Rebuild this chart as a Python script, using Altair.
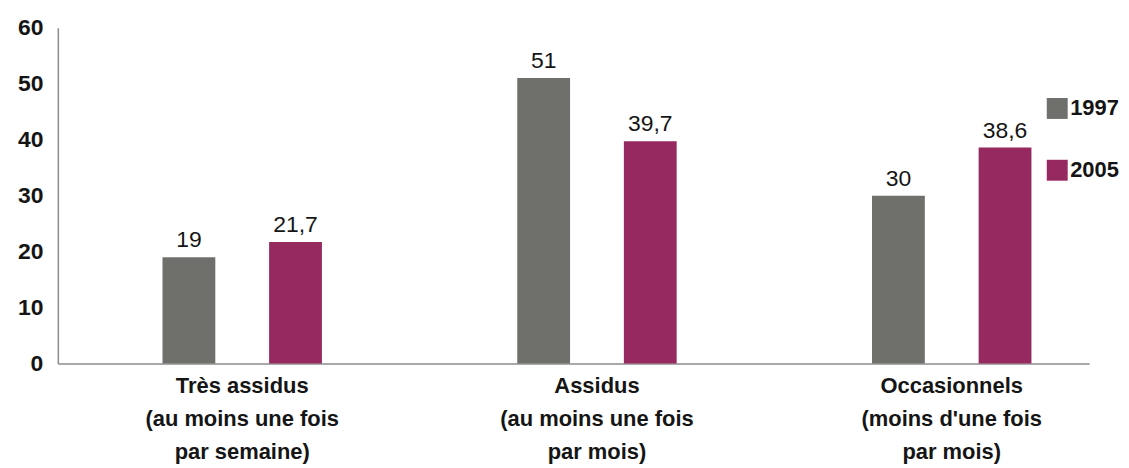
import altair as alt
import pandas as pd

categories = [
    "Très assidus|(au moins une fois|par semaine)",
    "Assidus|(au moins une fois|par mois)",
    "Occasionnels|(moins d'une fois|par mois)",
]
years = ["1997", "2005"]
values_1997 = [19, 51, 30]
values_2005 = [21.7, 39.7, 38.6]
y_ticks = [0, 10, 20, 30, 40, 50, 60]
colors = ["#6f706c", "#962a60"]

rows = []
for c, a, b in zip(categories, values_1997, values_2005):
    rows.append({"cat": c, "year": years[0], "value": a})
    rows.append({"cat": c, "year": years[1], "value": b})
df = pd.DataFrame(rows)
df["label"] = df["value"].map(lambda v: f"{v:g}".replace(".", ","))

FONT_B = "Liberation Sans, sans-serif"
FONT_R = "Liberation Sans, sans-serif"
TXT = "#151515"

x = alt.X(
    "cat:N",
    sort=categories,
    title=None,
    scale=alt.Scale(paddingInner=0.3, paddingOuter=0.1035, align=0.82),
    axis=alt.Axis(
        labelAngle=0,
        labelExpr="split(datum.label, '|')",
        labelFont=FONT_B,
        labelFontSize=22,
        labelFontWeight="bold",
        labelColor=TXT,
        labelLineHeight=33,
        labelBaseline="top",
        labelPadding=12,
        labelLimit=400,
        ticks=False,
        domainColor="#8c8c8c",
        domainWidth=1.5,
    ),
)
xoff = alt.XOffset(
    "year:N", sort=years, scale=alt.Scale(paddingInner=0.5047, paddingOuter=0.417)
)
y = alt.Y(
    "value:Q",
    title=None,
    scale=alt.Scale(domain=[0, 60], nice=False),
    axis=alt.Axis(
        values=y_ticks,
        grid=False,
        ticks=False,
        labelPadding=15,
        labelFont=FONT_B,
        labelFontSize=23,
        labelFontWeight="bold",
        labelColor=TXT,
        domainColor="#8c8c8c",
        domainWidth=1.5,
    ),
)
color = alt.Color(
    "year:N",
    scale=alt.Scale(domain=years, range=colors),
    legend=alt.Legend(
        title=None,
        orient="none",
        legendX=992,
        legendY=70,
        symbolType="square",
        symbolSize=441,
        symbolStrokeWidth=0,
        symbolOpacity=1,
        labelFont=FONT_B,
        labelFontSize=22,
        labelFontWeight="bold",
        labelColor=TXT,
        labelOffset=2,
        rowPadding=40,
        padding=0,
    ),
)

base = alt.Chart(df)
bars = base.mark_bar().encode(x=x, xOffset=xoff, y=y, color=color)
text = base.mark_text(
    baseline="bottom", dy=-5, font=FONT_R, fontSize=23, color=TXT
).encode(x=x, xOffset=xoff, y=y, text="label:N")

chart = (
    (bars + text)
    .properties(
        width=1035,
        height=337,
        padding={"left": 50, "top": 19, "right": 32, "bottom": 102},
        autosize=alt.AutoSizeParams(type="none"),
    )
    .configure_view(stroke=None)
)

chart.save("out.html", embed_options={"renderer": "svg", "actions": False})
